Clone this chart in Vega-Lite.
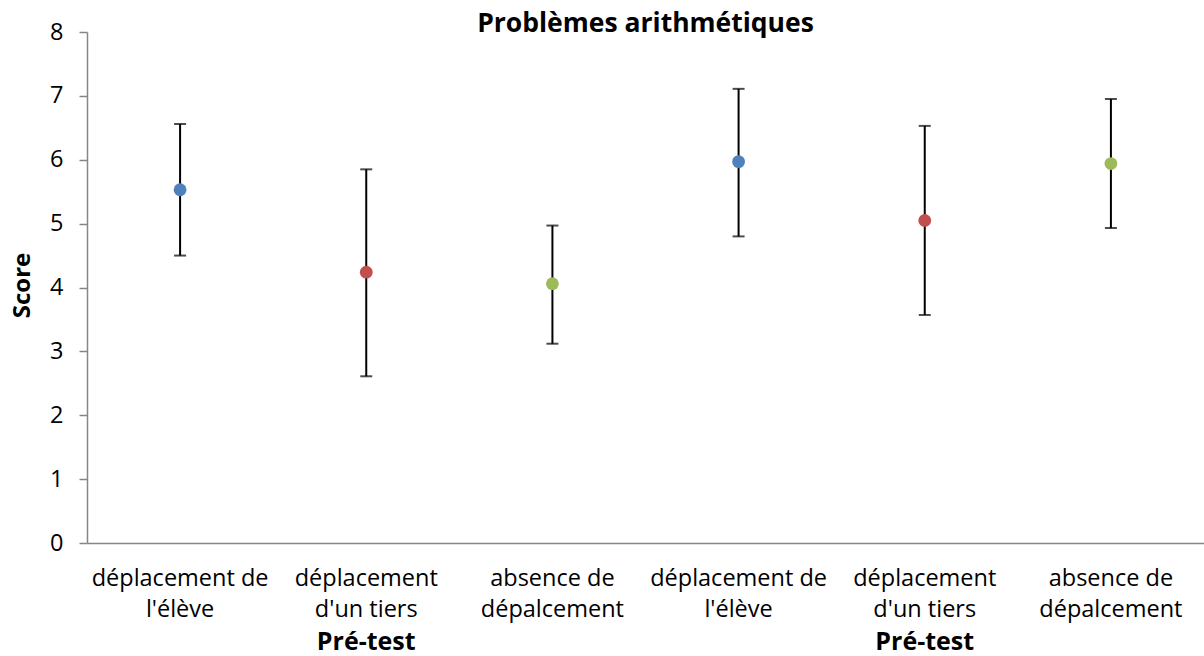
{
  "$schema": "https://vega.github.io/schema/vega-lite/v6.json",
  "autosize": "none",
  "width": 1117,
  "height": 511,
  "padding": {"left": 87, "top": 32, "right": 0, "bottom": 113},
  "background": "white",
  "config": {
    "view": {"stroke": null},
    "font": "Open Sans"
  },
  "title": {
    "text": "Problèmes arithmétiques",
    "font": "Open Sans",
    "fontSize": 26.5,
    "fontWeight": "bold",
    "color": "black",
    "anchor": "middle",
    "baseline": "alphabetic",
    "offset": 0,
    "dy": 38
  },
  "data": {
    "values": [
      {"bloc": 1, "groupe": "Pré-test", "condition": "déplacement de\nl'élève", "moyenne": 5.53, "bas": 4.50, "haut": 6.56},
      {"bloc": 1, "groupe": "Pré-test", "condition": "déplacement\nd'un tiers", "moyenne": 4.24, "bas": 2.61, "haut": 5.85},
      {"bloc": 1, "groupe": "Pré-test", "condition": "absence de\ndépalcement", "moyenne": 4.06, "bas": 3.12, "haut": 4.97},
      {"bloc": 2, "groupe": "Pré-test", "condition": "déplacement de\nl'élève", "moyenne": 5.97, "bas": 4.80, "haut": 7.11},
      {"bloc": 2, "groupe": "Pré-test", "condition": "déplacement\nd'un tiers", "moyenne": 5.05, "bas": 3.57, "haut": 6.53},
      {"bloc": 2, "groupe": "Pré-test", "condition": "absence de\ndépalcement", "moyenne": 5.94, "bas": 4.93, "haut": 6.95}
    ]
  },
  "transform": [
    {"calculate": "datum.bloc + '|' + datum.condition", "as": "cle"}
  ],
  "encoding": {
    "x": {
      "field": "cle",
      "type": "nominal",
      "sort": null,
      "scale": {"type": "band", "paddingInner": 0, "paddingOuter": 0},
      "axis": {
        "title": null,
        "labelExpr": "split(split(datum.value, '|')[1], '\\n')",
        "labelAngle": 0,
        "labelFont": "Open Sans",
        "labelFontSize": 23.5,
        "labelLineHeight": 31,
        "labelColor": "black",
        "labelPadding": 23,
        "labelLimit": 300,
        "ticks": false,
        "domainColor": "#868686",
        "domainWidth": 1.5,
        "grid": false
      }
    }
  },
  "layer": [
    {
      "mark": {"type": "rule", "color": "black", "strokeWidth": 2},
      "encoding": {
        "y": {
          "field": "bas",
          "type": "quantitative",
          "scale": {"domain": [0, 8], "nice": false, "zero": true},
          "axis": {
            "title": "Score",
            "titleFont": "Open Sans",
            "titleFontSize": 24,
            "titleFontWeight": "bold",
            "titleColor": "black",
            "titleAngle": -90,
            "titleBaseline": "middle",
            "titleAlign": "center",
            "titleX": -65,
            "titleY": 253,
            "values": [0, 1, 2, 3, 4, 5, 6, 7, 8],
            "format": "d",
            "labelFont": "Open Sans",
            "labelFontSize": 23.5,
            "labelColor": "black",
            "labelPadding": 16,
            "tickSize": 8,
            "tickColor": "#868686",
            "tickWidth": 1.5,
            "domainColor": "#868686",
            "domainWidth": 1.5,
            "grid": false
          }
        },
        "y2": {"field": "haut"}
      }
    },
    {
      "mark": {"type": "tick", "color": "black", "thickness": 2, "size": 12, "orient": "horizontal"},
      "encoding": {"y": {"field": "bas", "type": "quantitative"}}
    },
    {
      "mark": {"type": "tick", "color": "black", "thickness": 2, "size": 12, "orient": "horizontal"},
      "encoding": {"y": {"field": "haut", "type": "quantitative"}}
    },
    {
      "mark": {"type": "circle", "size": 165, "opacity": 1},
      "encoding": {
        "y": {"field": "moyenne", "type": "quantitative"},
        "color": {
          "field": "condition",
          "type": "nominal",
          "scale": {
            "domain": ["déplacement de\nl'élève", "déplacement\nd'un tiers", "absence de\ndépalcement"],
            "range": ["#4F81BD", "#C0504D", "#9BBB59"]
          },
          "legend": null
        }
      }
    },
    {
      "transform": [{"filter": "datum.condition == 'déplacement\\nd\\'un tiers'"}],
      "mark": {"type": "text", "font": "Open Sans", "fontSize": 25, "fontWeight": "bold", "color": "black", "baseline": "middle", "dy": 99, "clip": false},
      "encoding": {
        "y": {"datum": 0, "type": "quantitative"},
        "text": {"field": "groupe"}
      }
    }
  ]
}
